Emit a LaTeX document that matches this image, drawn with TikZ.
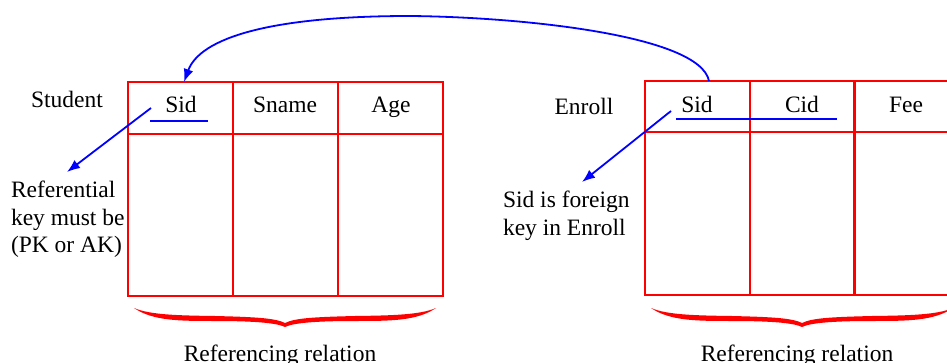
\documentclass[tikz,border=0pt]{standalone}
\usepackage{fontspec}
\setmainfont{Liberation Serif}
\usetikzlibrary{arrows.meta}
\begin{document}
\begin{tikzpicture}[x=1pt,y=-1pt,
  cell/.style={draw=red, line width=2pt, minimum width=105pt, inner sep=0pt, outer sep=0pt},
  head/.style={cell, minimum height=52pt},
  body/.style={cell, minimum height=162pt},
  lbl/.style={font=\fontsize{23.5}{27.5}\selectfont, inner sep=0pt, outer sep=0pt},
  barrow/.style={draw=blue, line width=1.8pt, -{Latex[length=13pt,width=10pt]}},
  uline/.style={draw=blue, line width=2.2pt},
  rbrace/.pic={
    \fill[red] (-151,-19) .. controls (-132,-6) and (-105,-6) .. (-70,-6)
      .. controls (-30,-6) and (-8,-4) .. (0,0)
      .. controls (8,-4) and (30,-6) .. (70,-6)
      .. controls (105,-6) and (132,-6) .. (151,-19)
      .. controls (135,-12) and (105,-11.5) .. (70,-11)
      .. controls (30,-10) and (10,-9) .. (0,-4)
      .. controls (-10,-9) and (-30,-10) .. (-70,-11)
      .. controls (-105,-11.5) and (-135,-12) .. (-151,-19) -- cycle;
  }]
\useasboundingbox (0,0) rectangle (947,363);
\clip (0,0) rectangle (947,363);

% Student relation
\node[head] (s1) at (180.5,108) {};
\node[head] (s2) at (285.5,108) {};
\node[head] (s3) at (390,108) {};
\node[body] (b1) at (180.5,215) {};
\node[body] (b2) at (285.5,215) {};
\node[body] (b3) at (390,215) {};
\node[lbl, anchor=base] (tsid) at (181,113) {Sid};
\node[lbl, anchor=base] (tsname) at (285,113) {Sname};
\node[lbl, anchor=base] (tage) at (391,113) {Age};
\node[lbl, anchor=base] (student) at (67,108) {Student};
\draw[uline] (150,121) -- (208,121);

% Enroll relation
\node[head, minimum height=51pt] (e1) at (697.5,106.5) {};
\node[head, minimum height=51pt] (e2) at (802,106.5) {};
\node[head, minimum height=51pt] (e3) at (906.5,106.5) {};
\node[body, minimum height=163pt] (f1) at (697.5,213.5) {};
\node[body, minimum height=163pt] (f2) at (802,213.5) {};
\node[body, minimum height=163pt] (f3) at (906.5,213.5) {};
\node[lbl, anchor=base] (tesid) at (697,113) {Sid};
\node[lbl, anchor=base] (tcid) at (802,113) {Cid};
\node[lbl, anchor=base] (tfee) at (906,113) {Fee};
\node[lbl, anchor=base] (enroll) at (584,115) {Enroll};
\draw[uline] (676,119) -- (837,119);

% notes
\node[lbl, align=left, anchor=north west] (ref) at (11,181) {Referential\\key must be\\(PK or AK)};
\node[lbl, align=left, anchor=north west] (fk) at (503,191) {Sid is foreign\\key in Enroll};

\coordinate (kS) at (151,108);
\coordinate (kSend) at (67,172);
\coordinate (kE) at (671,111);
\coordinate (kEend) at (582,182);
\draw[barrow] (kS) -- (kSend);
\draw[barrow] (kE) -- (kEend);

% foreign key reference
\draw[barrow] ([xshift=11.5pt]e1.north) .. controls (700,35) and (520,17) .. (410,16)
  .. controls (270,16) and (200,38) .. ([xshift=3.5pt]s1.north);

% braces and captions
\pic at (285,327) {rbrace};
\pic at (802,327) {rbrace};
\node[lbl, anchor=base] (cap1) at (280,361) {Referencing relation};
\node[lbl, anchor=base] (cap2) at (797,361) {Referencing relation};
\end{tikzpicture}
\end{document}
